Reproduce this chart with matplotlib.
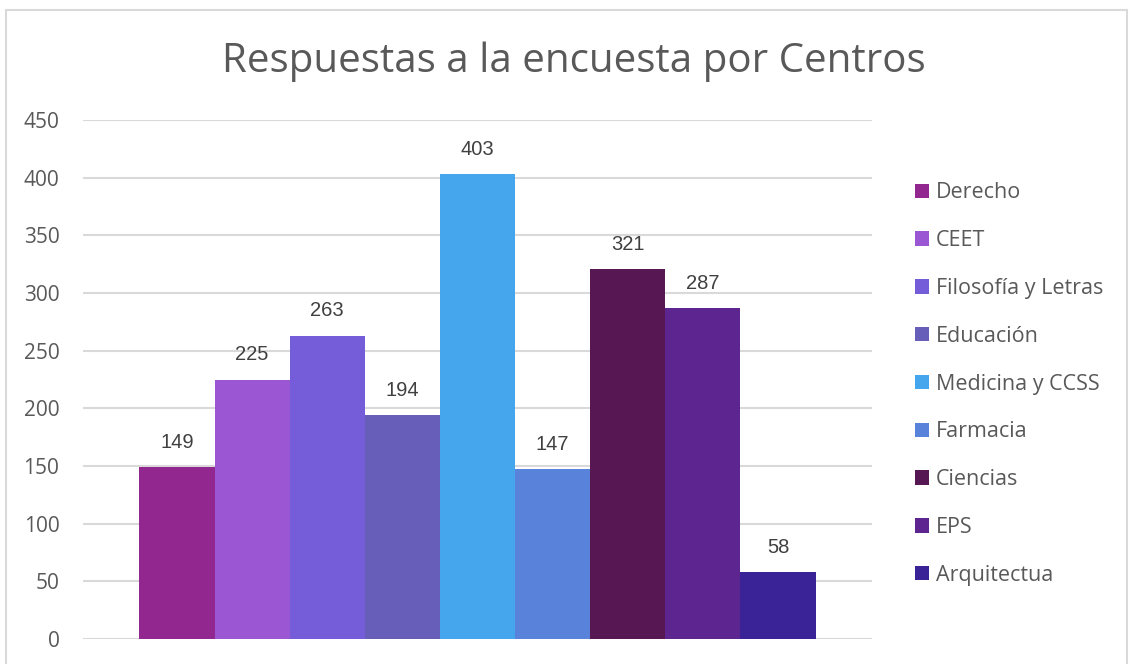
import matplotlib.pyplot as plt
from matplotlib.patches import Rectangle
import numpy as np

centros = ['Derecho', 'CEET', 'Filosofía y Letras', 'Educación', 'Medicina y CCSS',
           'Farmacia', 'Ciencias', 'EPS', 'Arquitectua']
respuestas = [149, 225, 263, 194, 403, 147, 321, 287, 58]
colores = ['#92278F', '#9B57D3', '#755DD9', '#665EB8', '#45A5ED',
           '#5982DB', '#561753', '#5D2590', '#3A2397']

plt.rcParams['font.family'] = ['Open Sans', 'DejaVu Sans']

fig = plt.figure(figsize=(11.3, 6.64), dpi=100)
fig.patches.append(Rectangle((6 / 1130, -0.01), 1121 / 1130, 1 - 10 / 664 + 0.01,
                             transform=fig.transFigure, fill=False,
                             edgecolor='#D9D9D9', lw=1.5))

ax = fig.add_axes([83 / 1130, 25 / 664, 789 / 1130, 519 / 664])

n = len(centros)
w = 0.857 / n
xs = (np.arange(n) - (n - 1) / 2) * w
for x, v, c, lab in zip(xs, respuestas, colores, centros):
    b = ax.bar(x, v, width=w, color=c, label=lab, zorder=3)
    ax.bar_label(b, padding=11, fontsize=14.5, color='#404040', family='Liberation Sans')

ax.set_xlim(-0.5, 0.5)
ax.set_ylim(0, 450)
ax.set_yticks(np.arange(0, 451, 50))
ax.set_xticks([])
ax.grid(axis='y', color='#D9D9D9', lw=1.5, zorder=0)
for s in ax.spines.values():
    s.set_visible(False)
ax.tick_params(axis='y', length=0, pad=17, labelsize=15, labelcolor='#595959')

fig.suptitle('Respuestas a la encuesta por Centros', x=574 / 1130, y=1 - 62 / 664,
             va='center', fontsize=29, color='#595959')

leg = fig.legend(loc='upper left', bbox_to_anchor=(896 / 1130, 1 - 163 / 664),
                 frameon=False, fontsize=15.5, labelcolor='#595959',
                 handlelength=0.65, handleheight=0.65, handletextpad=0.3,
                 labelspacing=1.245)

fig.savefig('out.png', dpi=100)
